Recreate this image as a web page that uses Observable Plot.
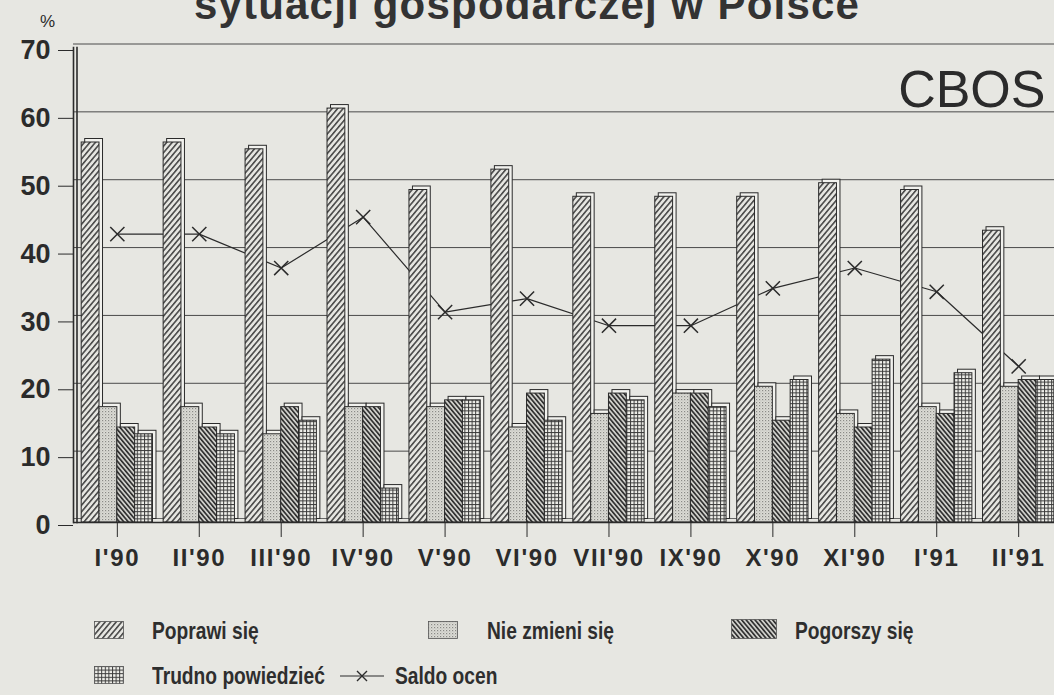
<!DOCTYPE html>
<html>
<head>
<meta charset="utf-8">
<script src="https://cdn.jsdelivr.net/npm/d3@7"></script>
<script src="https://cdn.jsdelivr.net/npm/@observablehq/plot@0.6"></script>
<style>
html,body{margin:0;padding:0;background:#e7e7e2;width:1054px;height:695px;overflow:hidden;color:#2b2b2b;font-family:"Liberation Sans",Arial,sans-serif}
#wrap{position:relative;width:1054px;height:695px;overflow:hidden}
#title{position:absolute;left:0;width:1054px;top:-16px;text-align:center;font-size:42px;line-height:42px;font-weight:bold;letter-spacing:1.2px;white-space:nowrap;color:#333}
#chart{position:absolute;left:0;top:0}
.leg{position:absolute;font-family:"Liberation Sans",Arial,sans-serif;font-weight:bold;font-size:24px;line-height:26px;white-space:nowrap;transform:scaleX(0.8);transform-origin:0 50%;color:#2e2e2e}
.sw{position:absolute}
g[aria-label="x-axis tick label"] text{letter-spacing:1.6px}
</style>
</head>
<body>
<svg width="0" height="0" style="position:absolute">
  <defs>
    <pattern id="p0" width="4.2" height="4.2" patternUnits="userSpaceOnUse" patternTransform="rotate(40)">
      <rect width="4.2" height="4.2" fill="#e6e6e1"/>
      <line x1="0.8" y1="0" x2="0.8" y2="4.2" stroke="#333" stroke-width="1.4"/>
    </pattern>
    <pattern id="p1" width="3" height="3" patternUnits="userSpaceOnUse">
      <rect width="3" height="3" fill="#dcdcd6"/>
      <rect x="0" y="0" width="1.2" height="1.2" fill="#8a8a86"/>
      <rect x="1.5" y="1.5" width="1" height="1" fill="#b0b0ab"/>
    </pattern>
    <pattern id="p2" width="3.4" height="3.4" patternUnits="userSpaceOnUse" patternTransform="rotate(-40)">
      <rect width="3.4" height="3.4" fill="#cfcfca"/>
      <line x1="0.8" y1="0" x2="0.8" y2="3.4" stroke="#2a2a2a" stroke-width="1.6"/>
    </pattern>
    <pattern id="p3" width="3.6" height="3.6" patternUnits="userSpaceOnUse">
      <rect width="3.6" height="3.6" fill="#f1f1ec"/>
      <line x1="0" y1="0.5" x2="3.6" y2="0.5" stroke="#3a3a3a" stroke-width="1"/>
      <line x1="0.5" y1="0" x2="0.5" y2="3.6" stroke="#3a3a3a" stroke-width="1"/>
    </pattern>
  </defs>
</svg>
<div id="wrap">
  <div id="chart"></div>
  <div id="title">sytuacji gospodarczej w Polsce</div>
</div>
<script>
// ---- data ----
const months = ["I'90","II'90","III'90","IV'90","V'90","VI'90","VII'90","IX'90","X'90","XI'90","I'91","II'91"];
const seriesNames = ["Poprawi się","Nie zmieni się","Pogorszy się","Trudno powiedzieć"];
const poprawi   = [56, 56, 55, 61, 49, 52, 48, 48, 48, 50, 49, 43];
const nieZmieni = [17, 17, 13, 17, 17, 14, 16, 19, 20, 16, 17, 20];
const pogorszy  = [14, 14, 17, 17, 18, 19, 19, 19, 15, 14, 16, 21];
const trudno    = [13, 13, 15, 5, 18, 15, 18, 17, 21, 24, 22, 21];
const saldo     = [42.5, 42.5, 37.5, 45, 31, 33, 29, 29, 34.5, 37.5, 34, 23];
const saldoName = "Saldo ocen";
const yTicks = [0, 10, 20, 30, 40, 50, 60, 70];

const seriesValues = [poprawi, nieZmieni, pogorszy, trudno];
const patterns = ["url(#p0)", "url(#p1)", "url(#p2)", "url(#p3)"];
const barRows = seriesNames.map((s, j) => months.map((m, i) => ({month: m, series: s, value: seriesValues[j][i]})));
const saldoRows = months.map((m, i) => ({month: m, value: saldo[i]}));

const W = 1054, H = 575;
const xOpts = {type: "band", domain: months, range: [73, 1062], paddingInner: 0.13, paddingOuter: 0.1, align: 0.5, round: false};
const bw = Plot.scale({x: xOpts}).bandwidth;
const q = bw / 4;
const depth = 3.5;
const ink = "#2b2b2b";

const barMarks = barRows.flatMap((rows, j) => [
  Plot.rectY(rows, {x: "month", y: "value", insetLeft: j * q, insetRight: (3 - j) * q, dx: depth, dy: -depth, fill: "#f2f2ee", stroke: ink, strokeWidth: 1}),
  Plot.rectY(rows, {x: "month", y: "value", insetLeft: j * q, insetRight: (3 - j) * q, fill: patterns[j], stroke: ink, strokeWidth: 1})
]);

const chart = Plot.plot({
  width: W, height: H,
  marginLeft: 73, marginRight: 0, marginTop: 47, marginBottom: 53,
  style: {background: "transparent", fontFamily: "'Liberation Sans', Arial, sans-serif", color: ink, overflow: "visible"},
  x: {...xOpts, label: null},
  y: {domain: [0, 70], label: null},
  marks: [
    Plot.ruleY(yTicks.filter(v => v > 0), {y: d => d, stroke: "#4a4a4a", strokeWidth: 1, dy: -3.5}),
    Plot.ruleY([0], {stroke: "#666", strokeWidth: 1, dy: -4}),
    Plot.line(saldoRows, {x: "month", y: "value", stroke: ink, strokeWidth: 1.2}),
    Plot.dot(saldoRows, {x: "month", y: "value", symbol: "times", r: 6.5, stroke: ink, strokeWidth: 1.5}),
    ...barMarks,
    Plot.ruleY([0], {stroke: ink, strokeWidth: 1.3}),
    Plot.frame({anchor: "left", stroke: ink, strokeWidth: 1.6}),
    Plot.frame({anchor: "left", stroke: ink, strokeWidth: 1.6, dx: 3.5}),
    Plot.axisY({ticks: yTicks, tickSize: 15, tickPadding: 8, fontSize: 27, fontWeight: "bold", tickFormat: d => String(d), dy: 3, label: null}),
    Plot.axisX({tickSize: 15, tickPadding: 11, fontSize: 24, fontWeight: "bold", label: null}),
    Plot.text(["CBOS"], {text: d => d, frameAnchor: "top-right", textAnchor: "end", lineAnchor: "top", dx: -9, dy: 23, fontSize: 52}),
    Plot.text(["%"], {text: d => d, frameAnchor: "top-left", textAnchor: "middle", lineAnchor: "middle", dx: -26, dy: -26, fontSize: 17})
  ]
});
document.getElementById("chart").appendChild(chart);

// ---- legend ----
const wrap = document.getElementById("wrap");
function swatch(left, top, w, h, fill) {
  const ns = "http://www.w3.org/2000/svg";
  const s = document.createElementNS(ns, "svg");
  s.setAttribute("width", w); s.setAttribute("height", h);
  s.setAttribute("class", "sw");
  s.style.left = left + "px"; s.style.top = top + "px";
  const r = document.createElementNS(ns, "rect");
  r.setAttribute("x", 0.5); r.setAttribute("y", 0.5);
  r.setAttribute("width", w - 1); r.setAttribute("height", h - 1);
  r.setAttribute("fill", fill); r.setAttribute("stroke", "#555"); r.setAttribute("stroke-width", 0.8);
  s.appendChild(r);
  wrap.appendChild(s);
}
function label(left, top, text) {
  const d = document.createElement("div");
  d.className = "leg"; d.style.left = left + "px"; d.style.top = top + "px";
  d.textContent = text;
  wrap.appendChild(d);
}
swatch(94, 621, 30, 18, patterns[0]);  label(152, 618, seriesNames[0]);
swatch(428, 621, 30, 18, patterns[1]); label(487, 618, seriesNames[1]);
swatch(731, 619, 46, 20, patterns[2]); label(795, 618, seriesNames[2]);
swatch(94, 666, 30, 18, patterns[3]);  label(152, 663, seriesNames[3]);
(function(){
  const ns = "http://www.w3.org/2000/svg";
  const s = document.createElementNS(ns, "svg");
  s.setAttribute("width", 48); s.setAttribute("height", 16);
  s.setAttribute("class", "sw"); s.style.left = "338px"; s.style.top = "668px";
  s.innerHTML = '<line x1="2" y1="8" x2="46" y2="8" stroke="#2b2b2b" stroke-width="1.2"/>' +
    '<path d="M19 3 L29 13 M29 3 L19 13" stroke="#2b2b2b" stroke-width="1.4"/>';
  wrap.appendChild(s);
})();
label(395, 663, saldoName);
</script>
</body>
</html>
